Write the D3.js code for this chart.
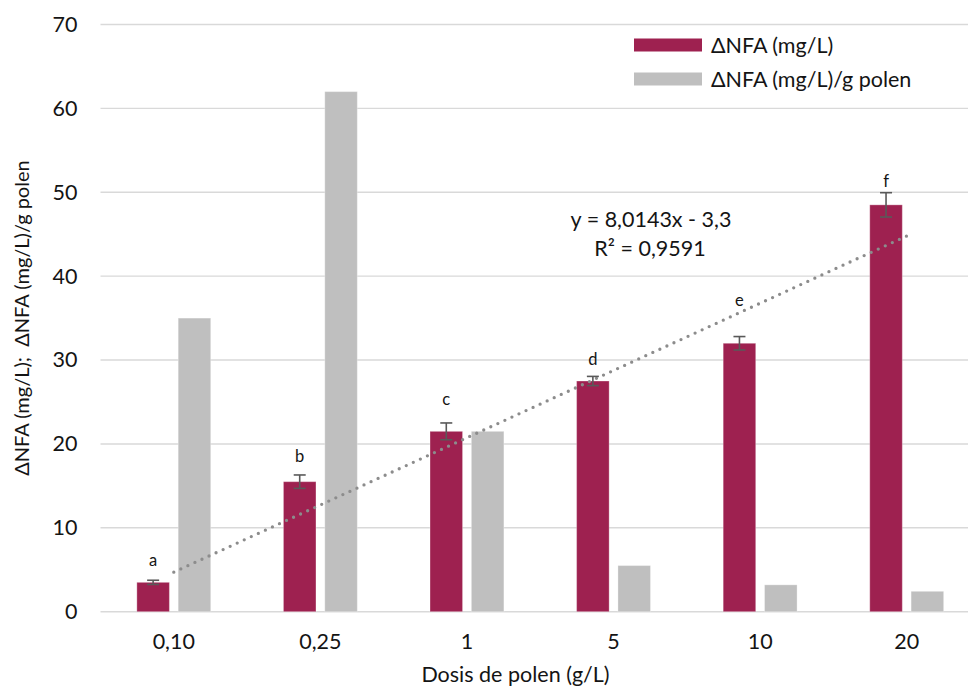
<!DOCTYPE html>
<html>
<head>
<meta charset="utf-8">
<script src="https://cdn.jsdelivr.net/npm/d3@7"></script>
<style>
  body { margin: 0; background: #fff; }
  text { font-family: Lato, "Open Sans", sans-serif; fill: #141414; }
</style>
</head>
<body>
<svg id="chart" width="968" height="689"></svg>
<script>
// data
const doses = ["0,10", "0,25", "1", "5", "10", "20"];
const nfa = [3.5, 15.5, 21.5, 27.5, 32, 48.5];
const nfaErr = [0.25, 0.8, 1.0, 0.55, 0.8, 1.45];
const nfaPerPollen = [35, 62, 21.5, 5.5, 3.2, 2.43];
const letters = ["a", "b", "c", "d", "e", "f"];
const letterY = [5.4, 17.9, 24.6, 29.4, 36.5, 50.6];
const yTicks = [0, 10, 20, 30, 40, 50, 60, 70];
const seriesNames = ["ΔNFA (mg/L)", "ΔNFA (mg/L)/g polen"];
const colors = ["#9e2150", "#bfbfbf"];

const svg = d3.select("#chart");

const plotLeft = 100.5, plotRight = 980, plotTop = 24.5, plotBottom = 611.7;
const fontSize = "21.5px";

let x = d3.scaleBand().domain(doses).range([plotLeft, plotRight]).paddingInner(0.496).paddingOuter(0.248);
let xSub = d3.scaleBand().domain([0, 1]).range([0, x.bandwidth()]).paddingInner(0.213);
let y = d3.scaleLinear().domain([0, 70]).range([plotBottom, plotTop]);

// gridlines
svg.append("g")
  .selectAll("line")
  .data(yTicks)
  .enter()
  .append("line")
  .attr("x1", plotLeft)
  .attr("x2", plotRight)
  .attr("y1", (d) => y(d))
  .attr("y2", (d) => y(d))
  .attr("stroke", "#d9d9d9")
  .attr("stroke-width", 1.4);

// y axis labels
let yAxis = d3.axisLeft(y).tickValues(yTicks).tickSize(0).tickPadding(23);
svg.append("g")
  .attr("transform", "translate(" + plotLeft + ",0)")
  .call(yAxis)
  .call((g) => g.select(".domain").remove())
  .selectAll("text")
  .style("font-family", "Lato, 'Open Sans', sans-serif")
  .style("font-size", fontSize)
  .attr("fill", "#141414");

// x axis labels
let xAxis = d3.axisBottom(x).tickSize(0).tickPadding(22);
svg.append("g")
  .attr("transform", "translate(0," + plotBottom + ")")
  .call(xAxis)
  .call((g) => g.select(".domain").remove())
  .selectAll("text")
  .style("font-family", "Lato, 'Open Sans', sans-serif")
  .style("font-size", fontSize)
  .attr("fill", "#141414");

// bars
const rows = doses.map((d, i) => ({ dose: d, vals: [nfa[i], nfaPerPollen[i]] }));

let group = svg.append("g")
  .selectAll("g")
  .data(rows)
  .enter()
  .append("g")
  .attr("transform", (d) => "translate(" + x(d.dose) + ",0)");

group.selectAll("rect")
  .data((d) => d.vals)
  .enter()
  .append("rect")
  .attr("x", (d, i) => xSub(i))
  .attr("width", xSub.bandwidth())
  .attr("y", (d) => y(d))
  .attr("height", (d) => plotBottom - y(d))
  .attr("fill", (d, i) => colors[i])
  .attr("stroke", "#ffffff")
  .attr("stroke-opacity", 0.3)
  .attr("stroke-width", 1);

// trendline from linear regression of nfa over 1..6
const xs = nfa.map((d, i) => i + 1);
const mx = d3.mean(xs), my = d3.mean(nfa);
const slope = d3.sum(xs, (v, i) => (v - mx) * (nfa[i] - my)) / d3.sum(xs, (v) => (v - mx) * (v - mx));
const intercept = my - slope * mx;

let xLin = d3.scaleLinear()
  .domain([1, doses.length])
  .range([x(doses[0]) + x.bandwidth() / 2, x(doses[doses.length - 1]) + x.bandwidth() / 2]);

svg.append("line")
  .attr("x1", xLin(1))
  .attr("y1", y(slope * 1 + intercept))
  .attr("x2", xLin(doses.length))
  .attr("y2", y(slope * doses.length + intercept))
  .attr("stroke", "#8c8c8c")
  .attr("stroke-width", 3.3)
  .attr("stroke-linecap", "round")
  .attr("stroke-dasharray", "0 7.75");

// error bars
const barMid = (i) => x(doses[i]) + xSub(0) + xSub.bandwidth() / 2;
let err = svg.append("g")
  .selectAll("g")
  .data(nfa)
  .enter()
  .append("g")
  .attr("stroke", "#595959")
  .attr("stroke-width", 1.6);

err.append("line")
  .attr("x1", (d, i) => barMid(i))
  .attr("x2", (d, i) => barMid(i))
  .attr("y1", (d, i) => y(d + nfaErr[i]))
  .attr("y2", (d, i) => y(d - nfaErr[i]));
err.append("line")
  .attr("x1", (d, i) => barMid(i) - 6)
  .attr("x2", (d, i) => barMid(i) + 6)
  .attr("y1", (d, i) => y(d + nfaErr[i]))
  .attr("y2", (d, i) => y(d + nfaErr[i]));
err.append("line")
  .attr("x1", (d, i) => barMid(i) - 6)
  .attr("x2", (d, i) => barMid(i) + 6)
  .attr("y1", (d, i) => y(d - nfaErr[i]))
  .attr("y2", (d, i) => y(d - nfaErr[i]));

// significance letters
svg.append("g")
  .selectAll("text")
  .data(letters)
  .enter()
  .append("text")
  .attr("x", (d, i) => barMid(i))
  .attr("y", (d, i) => y(letterY[i]))
  .attr("text-anchor", "middle")
  .style("font-size", "16.5px")
  .text((d) => d);

// trend equation
const fmt = (v, n) => v.toFixed(n).replace(".", ",");
svg.append("text")
  .attr("x", 651)
  .attr("y", 227)
  .attr("text-anchor", "middle")
  .style("font-size", fontSize)
  .text("y = " + fmt(slope, 4) + "x - " + fmt(-intercept, 1));
svg.append("text")
  .attr("x", 650)
  .attr("y", 256)
  .attr("text-anchor", "middle")
  .style("font-size", fontSize)
  .text("R² = 0,9591");

// legend
let legend = svg.append("g")
  .selectAll("g")
  .data(seriesNames)
  .enter()
  .append("g")
  .attr("transform", (d, i) => "translate(634," + (45 + i * 34) + ")");

legend.append("rect")
  .attr("x", 0)
  .attr("y", -6.5)
  .attr("width", 68)
  .attr("height", 13)
  .attr("fill", (d, i) => colors[i]);

legend.append("text")
  .attr("x", 77)
  .attr("y", 7.5)
  .style("font-size", fontSize)
  .text((d) => d);

// axis titles
svg.append("text")
  .attr("x", 515.5)
  .attr("y", 682)
  .attr("text-anchor", "middle")
  .style("font-size", fontSize)
  .text("Dosis de polen (g/L)");

svg.append("text")
  .attr("transform", "translate(29," + (plotTop + plotBottom) / 2 + ") rotate(-90)")
  .attr("text-anchor", "middle")
  .style("font-size", "20px")
  .style("white-space", "pre")
  .text("ΔNFA (mg/L);  ΔNFA (mg/L)/g polen");
</script>
</body>
</html>
